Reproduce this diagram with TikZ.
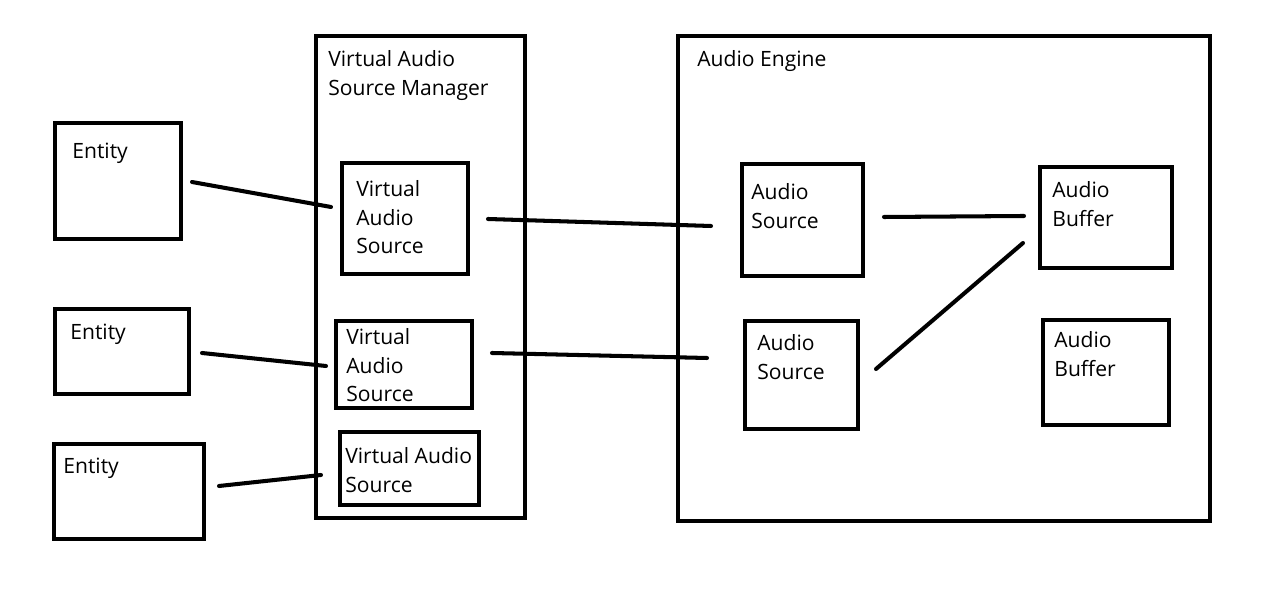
\documentclass[tikz,border=0pt]{standalone}
\usepackage{fontspec}
\setmainfont{Open Sans}
\usetikzlibrary{positioning,fit}

\begin{document}
\begin{tikzpicture}[x=0.02cm,y=-0.02cm,
	box/.style={draw, line width=2.5pt, inner sep=0pt},
	wire/.style={line width=2.3pt, line cap=round},
	lbl/.style={anchor=north west, inner sep=0pt, align=left, font=\fontsize{12}{16.4}\selectfont}]
	\useasboundingbox (0,0) rectangle (1275,590);
	% outer frames
	\node[box, fit={(316,36) (525,518)}] (vasm) {};
	\node[box, fit={(678,36) (1210,521)}] (eng) {};
	\node[lbl] (vasmtxt) at (328,50) {Virtual Audio\\Source Manager};
	\node[lbl] (engtxt) at (697,50) {Audio Engine};
	% entities
	\node[box, fit={(55,123) (181,239)}] (ent1) {};
	\node[box, fit={(55,309) (189,394)}] (ent2) {};
	\node[box, fit={(54,444) (204,539)}] (ent3) {};
	\node[lbl] (ent1txt) at (72,143) {Entity};
	\node[lbl] (ent2txt) at (70,324) {Entity};
	\node[lbl] (ent3txt) at (63,458) {Entity};
	% virtual audio sources
	\node[box, fit={(342,163) (468,274)}] (vas1) {};
	\node[box, fit={(336,321) (472,408)}] (vas2) {};
	\node[box, fit={(340,432) (479,505)}] (vas3) {};
	\node[lbl] (vas1txt) at (356,180) {Virtual\\Audio\\Source};
	\node[lbl] (vas2txt) at (346,328) {Virtual\\Audio\\Source};
	\node[lbl] (vas3txt) at (345,447) {Virtual Audio\\Source};
	% audio sources and buffers
	\node[box, fit={(742,164) (863,276)}] (as1) {};
	\node[box, fit={(745,321) (858,429)}] (as2) {};
	\node[box, fit={(1040,167) (1172,268)}] (ab1) {};
	\node[box, fit={(1043,320) (1169,425)}] (ab2) {};
	\node[lbl] (as1txt) at (751,183) {Audio\\Source};
	\node[lbl] (as2txt) at (757,334) {Audio\\Source};
	\node[lbl] (ab1txt) at (1052,181) {Audio\\Buffer};
	\node[lbl] (ab2txt) at (1054,331) {Audio\\Buffer};
	% line ends
	\coordinate (ent1out) at (192,182);
	\coordinate (ent2out) at (202,353);
	\coordinate (ent3out) at (219,486);
	\coordinate (vas1in) at (331,207);
	\coordinate (vas2in) at (326,366);
	\coordinate (vas3in) at (321,475);
	\coordinate (vas1out) at (488,219);
	\coordinate (vas2out) at (492,353);
	\coordinate (as1in) at (711,226);
	\coordinate (as2in) at (707,358);
	\coordinate (as1out) at (884,217);
	\coordinate (as2out) at (876,369);
	\coordinate (ab1in) at (1024,216);
	\coordinate (ab1low) at (1023,243);
	% links
	\draw[wire] (ent1out) -- (vas1in);
	\draw[wire] (ent2out) -- (vas2in);
	\draw[wire] (ent3out) -- (vas3in);
	\draw[wire] (vas1out) -- (as1in);
	\draw[wire] (vas2out) -- (as2in);
	\draw[wire] (as1out) -- (ab1in);
	\draw[wire] (as2out) -- (ab1low);
\end{tikzpicture}
\end{document}
